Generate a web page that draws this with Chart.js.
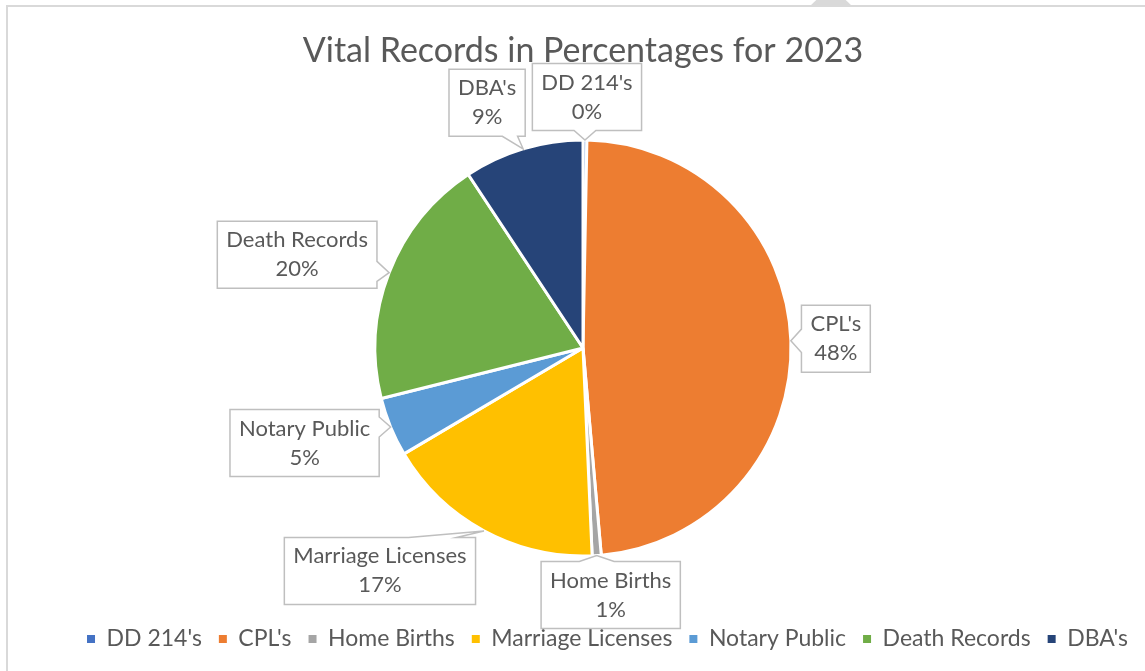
<!DOCTYPE html>
<html>
<head>
<meta charset="utf-8">
<script src="https://cdn.jsdelivr.net/npm/chart.js@4.4.0/dist/chart.umd.min.js"></script>
<style>
html, body { margin: 0; padding: 0; background: #fff; }
#wrap { position: relative; width: 1145px; height: 671px; overflow: hidden; }
#frame { position: absolute; left: 6px; top: 5px; width: 1200px; height: 800px; border: 2px solid #d9d9d9; }
#tab { position: absolute; left: 810px; top: 0; width: 42px; height: 6px; background: #d9d9d9; clip-path: polygon(15% 0, 85% 0, 100% 100%, 0 100%); }
canvas { position: absolute; left: 0; top: 0; }
</style>
</head>
<body>
<div id="wrap">
  <div id="frame"></div>
  <div id="tab"></div>
  <canvas id="chart" width="1145" height="671"></canvas>
</div>
<script>
// Dữ liệu
const categories = ["DD 214's", "CPL's", "Home Births", "Marriage Licenses", "Notary Public", "Death Records", "DBA's"];
const percentages = [0.3, 48.3, 0.7, 17.2, 4.6, 19.6, 9.3];
const sliceColors = ['#4472C4', '#ED7D31', '#A5A5A5', '#FFC000', '#5B9BD5', '#70AD47', '#264478'];

// vị trí hộp nhãn so với điểm mép lát bánh (dx, dy)
const calloutOffsets = [[2, -43], [45, -2], [14, 39.5], [-104, 40], [-86, 16], [-92, -18], [-36, -46]];

const textColor = '#595959';
const labelFont = '22px Lato';

function wedgeBase(start, end, tipProj, frac) {
    const lo = Math.min(start, end), hi = Math.max(start, end);
    const len = hi - lo;
    const bw = len * frac;
    const c = Math.min(Math.max(tipProj, lo + bw / 2 + len * 0.1), hi - bw / 2 - len * 0.1);
    return [c - bw / 2, c + bw / 2];
}

const calloutPlugin = {
    id: 'callouts',
    afterDatasetsDraw(chart) {
        const ctx = chart.ctx;
        const meta = chart.getDatasetMeta(0);
        const values = chart.data.datasets[0].data;
        const total = values.reduce((a, b) => a + b, 0);
        ctx.save();
        ctx.font = labelFont;
        meta.data.forEach((arc, i) => {
            const p = arc.getProps(['x', 'y', 'startAngle', 'endAngle', 'outerRadius'], true);
            const mid = (p.startAngle + p.endAngle) / 2;
            const tx = p.x + Math.cos(mid) * p.outerRadius;
            const ty = p.y + Math.sin(mid) * p.outerRadius;
            const lines = [chart.data.labels[i], Math.round(values[i] / total * 100) + '%'];
            const w = Math.max(...lines.map(s => ctx.measureText(s).width)) + 18;
            const h = 67;
            const cx = tx + calloutOffsets[i][0], cy = ty + calloutOffsets[i][1];
            const l = cx - w / 2, r = cx + w / 2, t = cy - h / 2, b = cy + h / 2;

            let side;
            if (ty > b) side = 'bottom';
            else if (ty < t) side = 'top';
            else if (tx > r) side = 'right';
            else side = 'left';

            ctx.beginPath();
            ctx.moveTo(l, t);
            if (side === 'top') {
                const [a, c] = wedgeBase(l, r, tx, 0.25);
                ctx.lineTo(a, t); ctx.lineTo(tx, ty); ctx.lineTo(c, t);
            }
            ctx.lineTo(r, t);
            if (side === 'right') {
                const [a, c] = wedgeBase(t, b, ty, 0.3);
                ctx.lineTo(r, a); ctx.lineTo(tx, ty); ctx.lineTo(r, c);
            }
            ctx.lineTo(r, b);
            if (side === 'bottom') {
                const [a, c] = wedgeBase(l, r, tx, 0.2);
                ctx.lineTo(c, b); ctx.lineTo(tx, ty); ctx.lineTo(a, b);
            }
            ctx.lineTo(l, b);
            if (side === 'left') {
                const [a, c] = wedgeBase(t, b, ty, 0.35);
                ctx.lineTo(l, c); ctx.lineTo(tx, ty); ctx.lineTo(l, a);
            }
            ctx.closePath();
            ctx.fillStyle = '#ffffff';
            ctx.fill();
            ctx.lineWidth = 1.5;
            ctx.strokeStyle = '#bfbfbf';
            ctx.stroke();

            ctx.fillStyle = textColor;
            ctx.textAlign = 'center';
            ctx.textBaseline = 'middle';
            ctx.fillText(lines[0], cx, cy - 14.5);
            ctx.fillText(lines[1], cx, cy + 14.5);
        });
        ctx.restore();
    }
};

new Chart(document.getElementById('chart'), {
    type: 'pie',
    data: {
        labels: categories,
        datasets: [{
            data: percentages,
            backgroundColor: sliceColors,
            borderColor: '#ffffff',
            borderWidth: 3,
            radius: 208
        }]
    },
    options: {
        responsive: false,
        animation: false,
        events: [],
        layout: { padding: { left: 21, right: 0, top: 0, bottom: 10.5 } },
        plugins: {
            title: {
                display: true,
                text: 'Vital Records in Percentages for 2023',
                color: textColor,
                font: { family: 'Lato', size: 34, weight: 'normal', lineHeight: 1.2 },
                padding: { top: 30.6, bottom: 14.1 }
            },
            legend: {
                position: 'bottom',
                align: 'end',
                labels: {
                    color: textColor,
                    font: { family: 'Lato', size: 23 },
                    boxWidth: 8,
                    boxHeight: 8,
                    padding: 17,
                    generateLabels: (chart) => Chart.controllers.pie.overrides.plugins.legend.labels
                        .generateLabels(chart)
                        .map(item => Object.assign(item, { lineWidth: 0, strokeStyle: item.fillStyle }))
                }
            },
            tooltip: { enabled: false }
        }
    },
    plugins: [calloutPlugin]
});
</script>
</body>
</html>
